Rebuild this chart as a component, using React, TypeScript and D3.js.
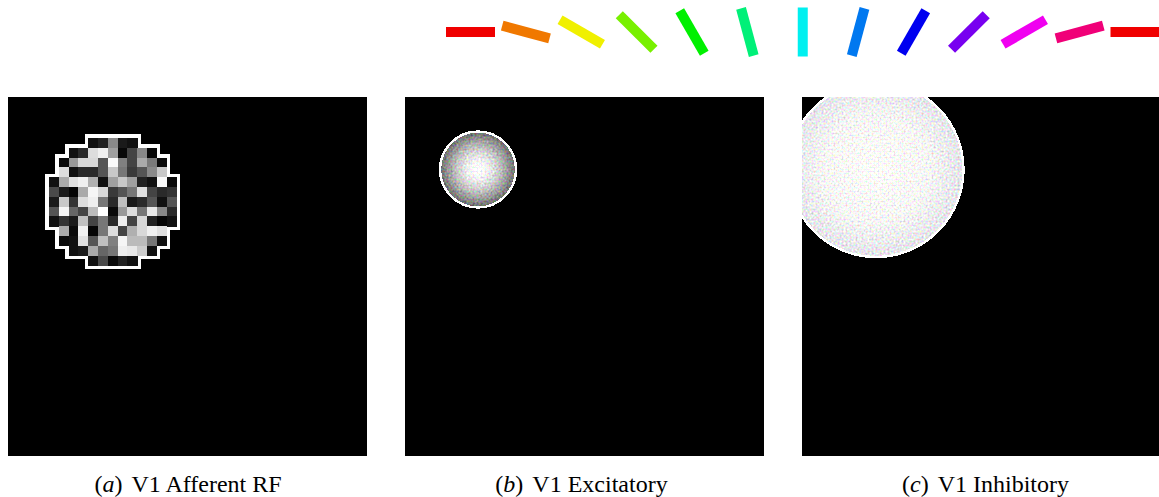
import React from "react";
import * as d3 from "d3";

// Orientation key: one bar per preferred orientation, coloured by hue
const ORIENTATIONS = [0, 15, 30, 45, 60, 75, 90, 105, 120, 135, 150, 165, 180];
const HUES = [0, 30, 60, 90, 120, 150, 180, 210, 240, 270, 300, 330, 360];

// Afferent receptive field weights (grey level 0-255), one row per grid row,
// each row centred on the disk's middle column
const RF_ROWS: number[][] = [
  [17, 34, 138, 26, 17],
  [17, 42, 221, 240, 160, 8, 68, 136, 8],
  [10, 153, 216, 216, 85, 250, 128, 68, 170, 122, 10],
  [221, 17, 42, 42, 85, 200, 119, 58, 85, 138, 200],
  [17, 170, 224, 240, 176, 17, 160, 200, 160, 34, 17, 250, 10],
  [74, 26, 5, 170, 245, 216, 58, 85, 119, 224, 68, 42, 51],
  [26, 200, 51, 221, 238, 119, 42, 192, 26, 42, 85, 17, 85],
  [85, 245, 102, 68, 187, 255, 10, 153, 221, 119, 232, 136, 42],
  [17, 51, 26, 192, 68, 119, 42, 238, 68, 216, 34, 5, 17],
  [170, 10, 240, 5, 119, 221, 68, 176, 216, 240, 224],
  [10, 17, 224, 85, 192, 128, 245, 187, 187, 119, 17],
  [17, 26, 170, 102, 119, 238, 232, 204, 17],
  [17, 74, 10, 34, 17],
];

const CAPTION_TAGS = ["a", "b", "c"];
const CAPTION_TITLES = ["V1 Afferent RF", "V1 Excitatory", "V1 Inhibitory"];

const W = 1159;
const H = 497;
const PANEL_X = [8, 405, 802];
const PANEL_Y = 97;
const PANEL_SIZE = 359;
const GRID_N = 13;
const CELL = 9.8;
const GRID_OFFSET = 41;
const CAPTION_CX = [188, 581.5, 985.5];
const CAPTION_Y = 491.5;

function OrientationKey() {
  const xs = d3
    .scalePoint<number>()
    .domain(ORIENTATIONS.map((_, i) => i))
    .range([470.5, 1135]);
  const len = 49;
  const thick = 10;
  return (
    <g>
      {ORIENTATIONS.map((o, i) => (
        <rect
          key={i}
          x={-len / 2}
          y={-thick / 2}
          width={len}
          height={thick}
          fill={d3.hsl(HUES[i] % 360, 1, 0.47).formatHex()}
          transform={`translate(${xs(i)},32) rotate(${o})`}
        />
      ))}
    </g>
  );
}

function AfferentPanel({ x0 }: { x0: number }) {
  const pos = d3
    .scaleLinear()
    .domain([0, GRID_N])
    .range([GRID_OFFSET, GRID_OFFSET + GRID_N * CELL]);
  const grey = d3.scaleLinear<string>().domain([0, 255]).range(["#000", "#fff"]);
  const cells = RF_ROWS.flatMap((row, r) => {
    const start = (GRID_N - row.length) / 2;
    return row.map((v, k) => ({ r, c: start + k, v }));
  });
  const pad = 3.6;
  return (
    <g transform={`translate(${x0},${PANEL_Y})`}>
      <rect width={PANEL_SIZE} height={PANEL_SIZE} fill="#000" />
      {cells.map((d, i) => (
        <rect
          key={"o" + i}
          x={pos(d.c) - pad}
          y={pos(d.r) - pad}
          width={CELL + 2 * pad}
          height={CELL + 2 * pad}
          fill="#fff"
          shapeRendering="crispEdges"
        />
      ))}
      {cells.map((d, i) => (
        <rect
          key={"c" + i}
          x={pos(d.c)}
          y={pos(d.r)}
          width={CELL + 0.3}
          height={CELL + 0.3}
          fill={grey(d.v)}
          shapeRendering="crispEdges"
        />
      ))}
    </g>
  );
}

function DiskPanel({
  x0,
  id,
  cx,
  cy,
  r,
  stops,
}: {
  x0: number;
  id: string;
  cx: number;
  cy: number;
  r: number;
  stops: [number, string][];
}) {
  return (
    <g transform={`translate(${x0},${PANEL_Y})`}>
      <defs>
        <clipPath id={`clip-${id}`}>
          <rect width={PANEL_SIZE} height={PANEL_SIZE} />
        </clipPath>
        <radialGradient id={`grad-${id}`} cx="50%" cy="50%" r="50%">
          {stops.map(([o, c], i) => (
            <stop key={i} offset={o} stopColor={c} />
          ))}
        </radialGradient>
      </defs>
      <rect width={PANEL_SIZE} height={PANEL_SIZE} fill="#000" />
      <g clipPath={`url(#clip-${id})`}>
        <circle cx={cx} cy={cy} r={r} fill={`url(#grad-${id})`} filter="url(#speckle)" />
        <circle
          cx={cx}
          cy={cy}
          r={r}
          fill="none"
          stroke="#fff"
          strokeWidth={2.4}
          shapeRendering="crispEdges"
        />
      </g>
    </g>
  );
}

export default function App() {
  return (
    <svg
      width={W}
      height={H}
      viewBox={`0 0 ${W} ${H}`}
      style={{ position: "absolute", left: 0, top: 0, display: "block", background: "#fff" }}
    >
      <defs>
        <filter id="speckle" colorInterpolationFilters="sRGB">
          <feTurbulence type="fractalNoise" baseFrequency="0.5" numOctaves={1} seed={7} result="n" />
          <feColorMatrix
            in="n"
            type="matrix"
            values="1 0 0 0 0  0 1 0 0 0  0 0 1 0 0  0 0 0 0 1"
            result="cn"
          />
          <feComposite
            in="SourceGraphic"
            in2="cn"
            operator="arithmetic"
            k1={0}
            k2={1}
            k3={0.6}
            k4={-0.27}
            result="mix"
          />
          <feComposite in="mix" in2="SourceGraphic" operator="in" />
        </filter>
      </defs>

      <OrientationKey />

      <AfferentPanel x0={PANEL_X[0]} />

      <DiskPanel
        x0={PANEL_X[1]}
        id="exc"
        cx={73}
        cy={72.5}
        r={38}
        stops={[
          [0, "#ffffff"],
          [0.28, "#e8e8e8"],
          [0.55, "#c0c0c0"],
          [0.8, "#8e8e8e"],
          [1, "#5e5e5e"],
        ]}
      />

      <DiskPanel
        x0={PANEL_X[2]}
        id="inh"
        cx={74}
        cy={72.5}
        r={87.5}
        stops={[
          [0, "#f8f8f4"],
          [0.6, "#f0f0ee"],
          [1, "#dcdce2"],
        ]}
      />

      {CAPTION_TAGS.map((tag, i) => (
        <text
          key={tag}
          x={CAPTION_CX[i]}
          y={CAPTION_Y}
          textAnchor="middle"
          fontFamily="'Liberation Serif', 'DejaVu Serif', serif"
          fontSize={24}
          fill="#000"
        >
          <tspan>(</tspan>
          <tspan fontStyle="italic">{tag}</tspan>
          <tspan>)</tspan>
          <tspan dx={9}>{CAPTION_TITLES[i]}</tspan>
        </text>
      ))}
    </svg>
  );
}
